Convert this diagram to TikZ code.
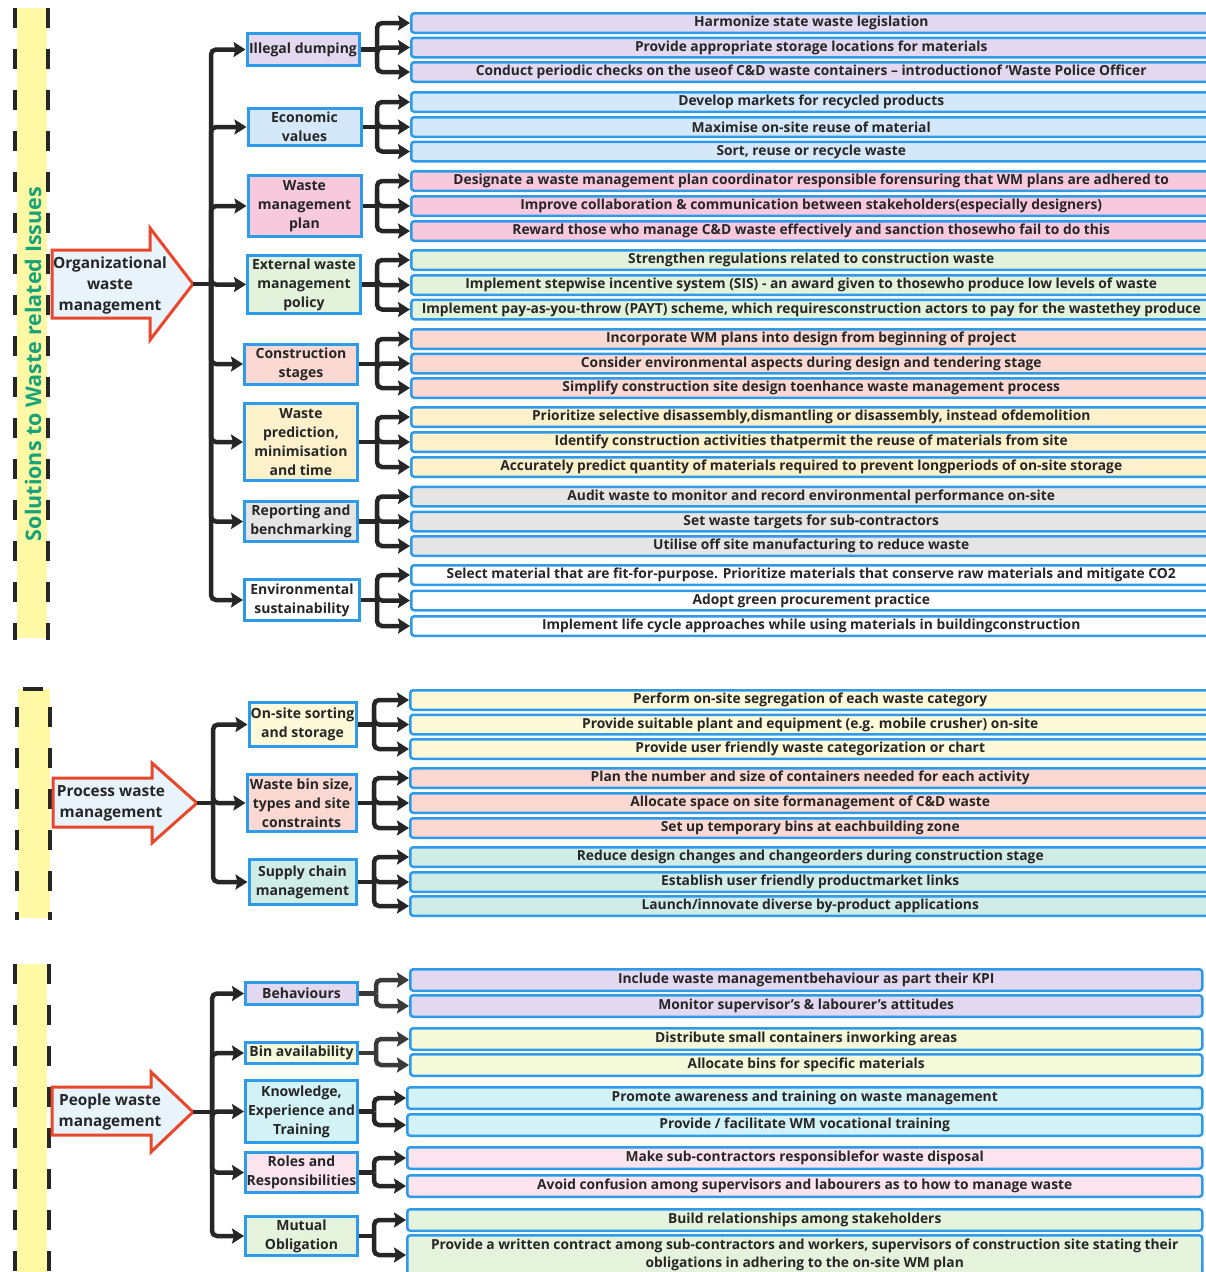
\documentclass[tikz,border=0pt]{standalone}
\usepackage{fontspec}
\setmainfont{Open Sans}
\usetikzlibrary{arrows.meta}

\definecolor{ink}{HTML}{262626}
\definecolor{inkgrey}{HTML}{3A3A3A}
\definecolor{bdr}{HTML}{2E9BEA}
\definecolor{arrred}{HTML}{E9472B}
\definecolor{arrfill}{HTML}{E8F3FC}
\definecolor{barY}{HTML}{FFF9A5}
\definecolor{titlegreen}{HTML}{17A37A}
\definecolor{cLav}{HTML}{E2D8F0}
\definecolor{cSky}{HTML}{D5E8FA}
\definecolor{cPink}{HTML}{F8C8DC}
\definecolor{cMint}{HTML}{E3F2DA}
\definecolor{cSalmon}{HTML}{FBD8D2}
\definecolor{cCream}{HTML}{FDF1CB}
\definecolor{cGrey}{HTML}{E5E5E5}
\definecolor{cLemon}{HTML}{FEF9D8}
\definecolor{cTeal}{HTML}{D0ECE6}
\definecolor{cLime}{HTML}{F4F9D9}
\definecolor{cCyan}{HTML}{D2F2F6}
\definecolor{cRose}{HTML}{FCE4EE}
\definecolor{cSage}{HTML}{E5F3DC}

\newcommand\myitemfont{\bfseries\fontsize{13.8}{18}\selectfont}
\newcommand\mycatfont{\bfseries\fontsize{14}{19}\selectfont}
\newcommand\myarrfont{\bfseries\fontsize{15.4}{21}\selectfont}

\tikzset{
  item/.style={draw=bdr, line width=2.5pt, rounded corners=3pt, anchor=west,
    minimum height=19.5pt, minimum width=800pt, inner sep=0pt,
    font=\myitemfont, text=ink, align=center},
  itemb/.style={item, minimum height=21.5pt},
  cat/.style={draw=bdr, line width=3pt, align=center, inner sep=1pt,
    font=\mycatfont, text=ink},
  link/.style={draw=ink, line width=4.5pt, rounded corners=5pt},
  conn/.style={link, -{Stealth[length=12pt,width=15pt,inset=2pt]}},
  conng/.style={conn, draw=inkgrey},
  bigarrow/.style={draw=arrred, fill=arrfill, line width=3pt, line join=miter},
  arrtext/.style={font=\myarrfont, text=ink, align=center},
  dashbar/.style={draw=ink, line width=4.5pt, dash pattern=on 20pt off 21pt},
}

\begin{document}
\begin{tikzpicture}[x=1pt, y=-1pt]
\useasboundingbox (0,0) rectangle (1206,1272);

% ---------- left bands ----------
\fill[barY] (17,8) rectangle (47,638);
\draw[dashbar] (15,8) -- (15,640);
\draw[dashbar] (48,8) -- (48,640);
\node[rotate=90, text=titlegreen, font=\bfseries\fontsize{21.5}{24}\selectfont] (title) at (33,364) {Solutions to Waste related Issues};

\fill[barY] (18,689) rectangle (50,918);
\draw[dashbar] (23,689) -- (43,689);
\draw[dashbar] (17,707) -- (17,920);
\draw[dashbar] (50,707) -- (50,920);

\fill[barY] (17,964) rectangle (47,1272);
\draw[dashbar] (15,964) -- (15,1272);
\draw[dashbar] (49,964) -- (49,1272);

% ---------- big arrows ----------
\draw[bigarrow] (52,250) -- (150,250) -- (150,228) -- (193,284) -- (150,340) -- (150,318) -- (52,318) -- cycle;
\node[arrtext] (o1) at (110,285) {Organizational\\waste\\management};
\coordinate (o1tip) at (193,284);

\draw[bigarrow] (53,778) -- (152,778) -- (152,763) -- (197,803) -- (152,843) -- (152,827) -- (53,827) -- cycle;
\node[arrtext] (o2) at (111,803) {Process waste\\management};
\coordinate (o2tip) at (197,803);

\draw[bigarrow] (52,1087) -- (151,1087) -- (151,1072) -- (193,1112) -- (151,1152) -- (151,1135) -- (52,1135) -- cycle;
\node[arrtext] (o3) at (110,1112) {People waste\\management};
\coordinate (o3tip) at (193,1112);

% ---------- trunk and fork columns ----------
\coordinate (t1) at (211,0);
\coordinate (t2) at (213,0);
\coordinate (t3) at (212,0);
\coordinate (fA) at (377,0);
\coordinate (fB) at (374,0);
\coordinate (fC) at (376,0);

% ---------- section 1: categories ----------
\node[cat, fill=cLav,    minimum width=112pt, minimum height=32pt] (c11) at (303,49.5) {Illegal dumping};
\node[cat, fill=cSky,    minimum width=113pt, minimum height=37pt] (c12) at (304.5,127) {Economic\\values};
\node[cat, fill=cPink,   minimum width=113pt, minimum height=61pt] (c13) at (304.5,206) {Waste\\management\\plan};
\node[cat, fill=cMint,   minimum width=113pt, minimum height=58pt] (c14) at (304,284.5) {External waste\\management\\policy};
\node[cat, fill=cSalmon, minimum width=113pt, minimum height=40pt] (c15) at (301,364) {Construction\\stages};
\node[cat, fill=cCream,  minimum width=113pt, minimum height=77pt] (c16) at (301,442) {Waste\\prediction,\\minimisation\\and time};
\node[cat, fill=cGrey,   minimum width=113pt, minimum height=40pt] (c17) at (301,521.5) {Reporting and\\benchmarking};
\node[cat, fill=white,   minimum width=115pt, minimum height=41pt] (c18) at (302,600) {Environmental\\sustainability};

% ---------- section 1: actions ----------
\node[item, fill=cLav] (i11) at (410,23) {Harmonize state waste legislation};
\node[item, fill=cLav] (i12) at (410,47.5) {Provide appropriate storage locations for materials};
\node[item, fill=cLav] (i13) at (410,72) {Conduct periodic checks on the useof C\&D waste containers – introductionof ‘Waste Police Officer};

\node[item, fill=cSky] (i21) at (410,102) {Develop markets for recycled products};
\node[item, fill=cSky] (i22) at (410,127) {Maximise on-site reuse of material};
\node[item, fill=cSky] (i23) at (410,151.5) {Sort, reuse or recycle waste};

\node[item, fill=cPink] (i31) at (410,181) {Designate a waste management plan coordinator responsible forensuring that WM plans are adhered to};
\node[item, fill=cPink] (i32) at (410,206) {Improve collaboration \& communication between stakeholders(especially designers)};
\node[item, fill=cPink] (i33) at (410,231) {Reward those who manage C\&D waste effectively and sanction thosewho fail to do this};

\node[item, fill=cMint] (i41) at (410,260) {Strengthen regulations related to construction waste};
\node[item, fill=cMint] (i42) at (410,285) {Implement stepwise incentive system (SIS) - an award given to thosewho produce low levels of waste};
\node[item, fill=cMint] (i43) at (410,309.5) {Implement pay-as-you-throw (PAYT) scheme, which requiresconstruction actors to pay for the wastethey produce};

\node[item, fill=cSalmon] (i51) at (410,339) {Incorporate WM plans into design from beginning of project};
\node[item, fill=cSalmon] (i52) at (410,363.5) {Consider environmental aspects during design and tendering stage};
\node[item, fill=cSalmon] (i53) at (410,388) {Simplify construction site design toenhance waste management process};

\node[item, fill=cCream] (i61) at (410,417) {Prioritize selective disassembly,dismantling or disassembly, instead ofdemolition};
\node[item, fill=cCream] (i62) at (410,442) {Identify construction activities thatpermit the reuse of materials from site};
\node[item, fill=cCream] (i63) at (410,467) {Accurately predict quantity of materials required to prevent longperiods of on-site storage};

\node[item, fill=cGrey] (i71) at (410,496.5) {Audit waste to monitor and record environmental performance on-site};
\node[item, fill=cGrey] (i72) at (410,521.5) {Set waste targets for sub-contractors};
\node[item, fill=cGrey] (i73) at (410,546) {Utilise off site manufacturing to reduce waste};

\node[item, fill=white] (i81) at (410,575) {Select material that are fit-for-purpose. Prioritize materials that conserve raw materials and mitigate CO2};
\node[item, fill=white] (i82) at (410,600.5) {Adopt green procurement practice};
\node[item, fill=white] (i83) at (410,626) {Implement life cycle approaches while using materials in buildingconstruction};

% ---------- section 1: connectors ----------
\draw[link] (o1tip) -- (o1tip -| t1);
\foreach \c in {c11,c12,c13,c14,c15,c16,c17,c18}
  \draw[conn] (o1tip -| t1) |- (\c.west);
\foreach \g in {1,...,8} {
  \draw[link] (c1\g.east) -- (c1\g.east -| fA);
  \foreach \k in {1,2,3}
    \draw[conn] (c1\g.east -| fA) |- (i\g\k.west);
}

% ---------- section 2: categories ----------
\node[cat, fill=cLemon,  minimum width=107pt, minimum height=44pt] (c21) at (302.5,724.5) {On-site sorting\\and storage};
\node[cat, fill=cSalmon, minimum width=109pt, minimum height=57pt] (c22) at (301.5,803) {Waste bin size,\\types and site\\constraints};
\node[cat, fill=cTeal,   minimum width=107pt, minimum height=45pt] (c23) at (302.5,882) {Supply chain\\management};

% ---------- section 2: actions ----------
\node[item, fill=cLemon] (j11) at (409,700) {Perform on-site segregation of each waste category};
\node[item, fill=cLemon] (j12) at (409,724.5) {Provide suitable plant and equipment (e.g. mobile crusher) on-site};
\node[item, fill=cLemon] (j13) at (409,749) {Provide user friendly waste categorization or chart};

\node[item, fill=cSalmon] (j21) at (409,778) {Plan the number and size of containers needed for each activity};
\node[item, fill=cSalmon] (j22) at (409,803) {Allocate space on site formanagement of C\&D waste};
\node[item, fill=cSalmon] (j23) at (409,828) {Set up temporary bins at eachbuilding zone};

\node[item, fill=cTeal] (j31) at (409,857) {Reduce design changes and changeorders during construction stage};
\node[item, fill=cTeal] (j32) at (409,882) {Establish user friendly productmarket links};
\node[item, fill=cTeal] (j33) at (409,906) {Launch/innovate diverse by-product applications};

% ---------- section 2: connectors ----------
\draw[link] (o2tip) -- (o2tip -| t2);
\foreach \c in {c21,c22,c23}
  \draw[conn] (o2tip -| t2) |- (\c.west);
\foreach \g in {1,2,3} {
  \draw[link] (c2\g.east) -- (c2\g.east -| fB);
  \foreach \k in {1,2,3}
    \draw[conn] (c2\g.east -| fB) |- (j\g\k.west);
}

% ---------- section 3: categories ----------
\node[cat, fill=cLav,  minimum width=112pt, minimum height=22pt] (c31) at (301.5,993.5) {Behaviours};
\node[cat, fill=cLime, minimum width=112pt, minimum height=21pt] (c32) at (301.5,1053) {Bin availability};
\node[cat, fill=cCyan, minimum width=112pt, minimum height=62pt] (c33) at (301.5,1111.5) {Knowledge,\\Experience and\\Training};
\node[cat, fill=cRose, minimum width=112pt, minimum height=40pt] (c34) at (301.5,1172.5) {Roles and\\Responsibilities};
\node[cat, fill=cSage, minimum width=112pt, minimum height=39pt] (c35) at (301.5,1236) {Mutual\\Obligation};

% ---------- section 3: actions ----------
\node[itemb, fill=cLav, minimum width=792pt] (k11) at (409,980) {Include waste managementbehaviour as part their KPI};
\node[itemb, fill=cLav, minimum width=792pt] (k12) at (409,1006) {Monitor supervisor's \& labourer’s attitudes};

\node[itemb, fill=cLime, minimum width=792pt] (k21) at (409,1039) {Distribute small containers inworking areas};
\node[itemb, fill=cLime, minimum width=792pt] (k22) at (409,1065) {Allocate bins for specific materials};

\node[itemb, fill=cCyan, minimum width=795pt] (k31) at (406,1098) {Promote awareness and training on waste management};
\node[itemb, fill=cCyan, minimum width=795pt] (k32) at (406,1125) {Provide / facilitate WM vocational training};

\node[itemb, fill=cRose, minimum width=795pt] (k41) at (406,1158) {Make sub-contractors responsiblefor waste disposal};
\node[itemb, fill=cRose, minimum width=795pt] (k42) at (406,1186) {Avoid confusion among supervisors and labourers as to how to manage waste};

\node[itemb, fill=cSage, minimum width=795pt] (k51) at (406,1220) {Build relationships among stakeholders};
\node[itemb, fill=cSage, minimum width=795pt, minimum height=39.5pt] (k52) at (406,1255) {Provide a written contract among sub-contractors and workers, supervisors of construction site stating their\\obligations in adhering to the on-site WM plan};

% ---------- section 3: connectors ----------
\draw[link] (o3tip) -- (o3tip -| t3);
\foreach \c in {c31,c32,c33,c34,c35}
  \draw[conn] (o3tip -| t3) |- (\c.west);
\draw[link, draw=inkgrey] (c31.east) -- (c31.east -| fC);
\foreach \k in {1,2} \draw[conng] (c31.east -| fC) |- (k1\k.west);
\draw[link, draw=inkgrey] (c32.east) -- (c32.east -| fC);
\foreach \k in {1,2} \draw[conng] (c32.east -| fC) |- (k2\k.west);
\foreach \g in {3,4,5} {
  \draw[link] (c3\g.east) -- (c3\g.east -| fB);
  \foreach \k in {1,2}
    \draw[conn] (c3\g.east -| fB) |- (k\g\k.west);
}
\end{tikzpicture}
\end{document}
